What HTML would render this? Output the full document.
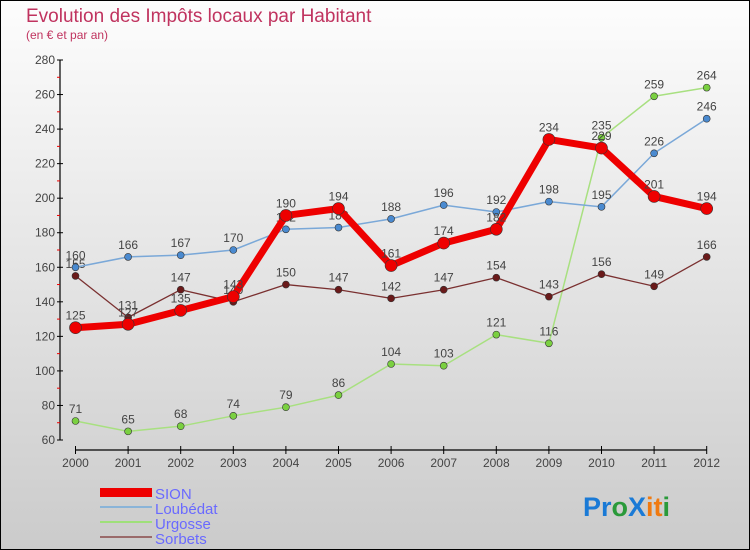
<!DOCTYPE html>
<html><head><meta charset="utf-8"><style>
body{margin:0}
#c{width:750px;height:550px;position:relative;overflow:hidden}
text{font-family:"Liberation Sans",sans-serif}
</style></head><body>
<div id="c">
<svg id="s" width="750" height="550" xmlns="http://www.w3.org/2000/svg">
<defs><linearGradient id="bg" x1="0" y1="0" x2="0" y2="1"><stop offset="0" stop-color="#fdfdfd"/><stop offset="1" stop-color="#cbcbcb"/></linearGradient></defs>
<rect x="0.5" y="0.5" width="749" height="549" fill="url(#bg)" stroke="#000"/>
<text x="26" y="22" font-size="19" fill="#c0335f">Evolution des Impôts locaux par Habitant</text>
<text x="26" y="39" font-size="12" fill="#c0335f">(en € et par an)</text>
<g id="axes"></g><g id="series"></g>
<g>
<rect x="100" y="488" width="52" height="9" fill="#e00"/>
<text x="155" y="499" font-size="15" fill="#6a6aff">SION</text>
<line x1="100" y1="507" x2="152" y2="507" stroke="#8ab4d8" stroke-width="2"/>
<text x="155" y="514" font-size="15" fill="#6a6aff">Loubédat</text>
<line x1="100" y1="522" x2="152" y2="522" stroke="#9fe07a" stroke-width="2"/>
<text x="155" y="529" font-size="15" fill="#6a6aff">Urgosse</text>
<line x1="100" y1="537" x2="152" y2="537" stroke="#9a6a6a" stroke-width="2"/>
<text x="155" y="544" font-size="15" fill="#6a6aff">Sorbets</text>
</g>
<g font-size="27" font-weight="bold">
<text x="583" y="516"><tspan fill="#1a7ad6">Pr</tspan><tspan fill="#2a9a3a">o</tspan><tspan fill="#1a7ad6">X</tspan><tspan fill="#f07a10">it</tspan><tspan fill="#2a9a3a">i</tspan></text>
</g>
</svg>
</div>
<script>
const years=["2000","2001","2002","2003","2004","2005","2006","2007","2008","2009","2010","2011","2012"];
const yTicks=[60,80,100,120,140,160,180,200,220,240,260,280];
const sion=[125,127,135,143,190,194,161,174,182,234,229,201,194];
const loubedat=[160,166,167,170,182,183,188,196,192,198,195,226,246];
const urgosse=[71,65,68,74,79,86,104,103,121,116,235,259,264];
const sorbets=[155,131,147,140,150,147,142,147,154,143,156,149,166];
const NS="http://www.w3.org/2000/svg";
const x=i=>75.5+i*52.6;
const y=v=>440-(v-60)*380/220;
function mk(t,a,p){const e=document.createElementNS(NS,t);for(const k in a)e.setAttribute(k,a[k]);p.appendChild(e);return e;}
const ax=document.getElementById('axes');
let l=mk('line',{x1:60,y1:60,x2:60,y2:440,stroke:'#000','stroke-width':1.2},ax);


l=mk('line',{x1:75,y1:450,x2:707,y2:450,stroke:'#000','stroke-width':1.2},ax);


yTicks.forEach(v=>{
 mk('line',{x1:57,y1:y(v),x2:63,y2:y(v),stroke:'#000'},ax);
 if(v<280) mk('line',{x1:57,y1:y(v+10),x2:60,y2:y(v+10),stroke:'#e00'},ax);
 const t=mk('text',{x:55,y:y(v)+4,'font-size':12,fill:'#444','text-anchor':'end'},ax);t.textContent=v;
 
 
});
years.forEach((yr,i)=>{
 mk('line',{x1:x(i),y1:446,x2:x(i),y2:454,stroke:'#000'},ax);
 const t=mk('text',{x:x(i),y:467,'font-size':12,fill:'#444','text-anchor':'middle'},ax);t.textContent=yr;
 
 
});
const sg=document.getElementById('series');
function series(name,data,color,w,r,dot,lab){
 const g=mk('g',{},sg);
 
 
 mk('polyline',{points:data.map((v,i)=>x(i)+','+y(v)).join(' '),fill:'none',stroke:color,'stroke-width':w,'stroke-linejoin':'round'},g);
 data.forEach((v,i)=>{
  const c=mk('circle',{cx:x(i),cy:y(v),r:r,fill:dot,stroke:'#333','stroke-width':0.6},g);
  
  
  const t=mk('text',{x:x(i),y:y(v)-8,'font-size':12,fill:'#444','text-anchor':'middle'},g);t.textContent=v;
  
  
 });
}
series('urgosse',urgosse,'#a8e080',1.5,3.5,'#7ad040');
series('sorbets',sorbets,'#7a3030',1.3,3.5,'#6a1a1a');
series('loubedat',loubedat,'#7aa8d8',1.5,3.5,'#4a8ad0');
series('sion',sion,'#ee0000',7,6,'#ee0000');
</script>
</body></html>
